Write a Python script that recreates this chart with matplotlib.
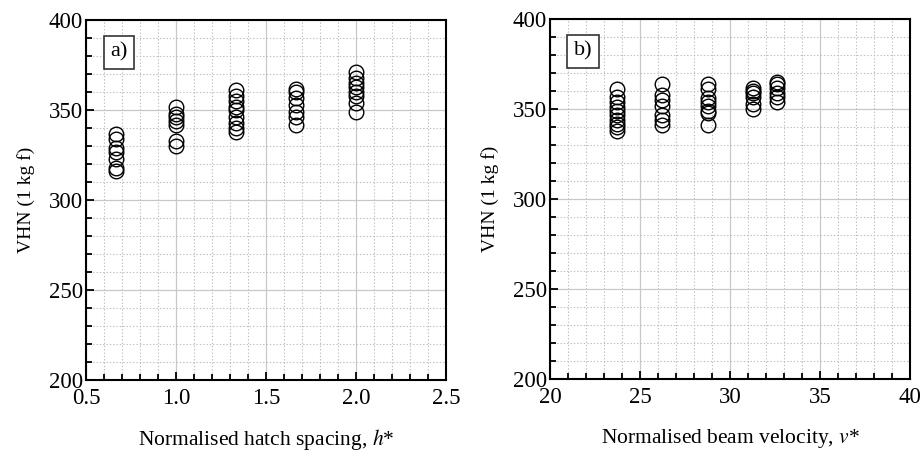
import numpy as np
import matplotlib.pyplot as plt
from matplotlib.ticker import MultipleLocator, FormatStrFormatter

plt.rcParams['font.family'] = ['Liberation Serif', 'DejaVu Serif']
plt.rcParams['mathtext.fontset'] = 'stix'

# hardness vs normalised hatch spacing
h_levels = [0.667, 1.0, 1.333, 1.667, 2.0]
h_vhn = [
    [337, 334, 329, 327, 323, 318, 316],
    [352, 348, 346, 344, 342, 333, 330],
    [361, 358, 355, 352, 350, 346, 343, 340, 338],
    [362, 360, 357, 353, 349, 346, 342],
    [371, 368, 365, 363, 360, 358, 354, 349],
]

# hardness vs normalised beam velocity
v_levels = [23.7, 26.2, 28.8, 31.3, 32.6]
v_vhn = [
    [361, 357, 354, 351, 349, 347, 344, 342, 340, 338],
    [364, 358, 355, 352, 347, 344, 341],
    [364, 361, 356, 354, 352, 349, 348, 341],
    [362, 360, 359, 357, 353, 350],
    [365, 364, 362, 359, 357, 354],
]


def style_axes(ax, xlim, xmajor, xminor, fmt, xlabel, tag):
    ax.set_xlim(*xlim)
    ax.set_ylim(200, 400)
    ax.xaxis.set_major_locator(MultipleLocator(xmajor))
    ax.xaxis.set_minor_locator(MultipleLocator(xminor))
    ax.xaxis.set_major_formatter(FormatStrFormatter(fmt))
    ax.yaxis.set_major_locator(MultipleLocator(50))
    ax.yaxis.set_minor_locator(MultipleLocator(10))
    ax.grid(which='major', color='#c8c8c8', lw=0.9, ls='-')
    ax.grid(which='minor', color='#bdbdbd', lw=0.8, ls=(0, (1.2, 1.8)))
    ax.set_axisbelow(True)
    ax.tick_params(which='both', direction='in', top=False, right=False,
                   labelsize=16.5, width=1.3, colors='black')
    ax.tick_params(which='major', length=6)
    ax.tick_params(which='minor', length=4)
    ax.tick_params(axis='x', which='major', pad=6)
    ax.tick_params(axis='y', which='major', pad=2)
    for s in ax.spines.values():
        s.set_linewidth(1.5)
    ax.set_xlabel(xlabel, fontsize=15.5, labelpad=13)
    ax.set_ylabel('VHN (1 kg f)', fontsize=14, labelpad=10)
    ax.text(0.092, 0.911, tag, transform=ax.transAxes, fontsize=16,
            ha='center', va='center',
            bbox=dict(boxstyle='square,pad=0.3', fc='white', ec='#333333', lw=1.2))


fig = plt.figure(figsize=(9.23, 4.59), dpi=100)
ax1 = fig.add_axes([0.0932, 0.172, 0.390, 0.784])
ax2 = fig.add_axes([0.5959, 0.174, 0.390, 0.784])

for x, ys in zip(h_levels, h_vhn):
    ax1.plot([x] * len(ys), ys, 'o', ms=10.5, mfc='none', mec='black', mew=1.0)
for x, ys in zip(v_levels, v_vhn):
    ax2.plot([x] * len(ys), ys, 'o', ms=10.5, mfc='none', mec='black', mew=1.0)

style_axes(ax1, (0.5, 2.5), 0.5, 0.1, '%.1f',
           'Normalised hatch spacing, $\\it{h}$*', 'a)')
style_axes(ax2, (20, 40), 5, 1, '%d',
           'Normalised beam velocity, $\\it{v}$*', 'b)')

fig.savefig('out.png', dpi=100)
